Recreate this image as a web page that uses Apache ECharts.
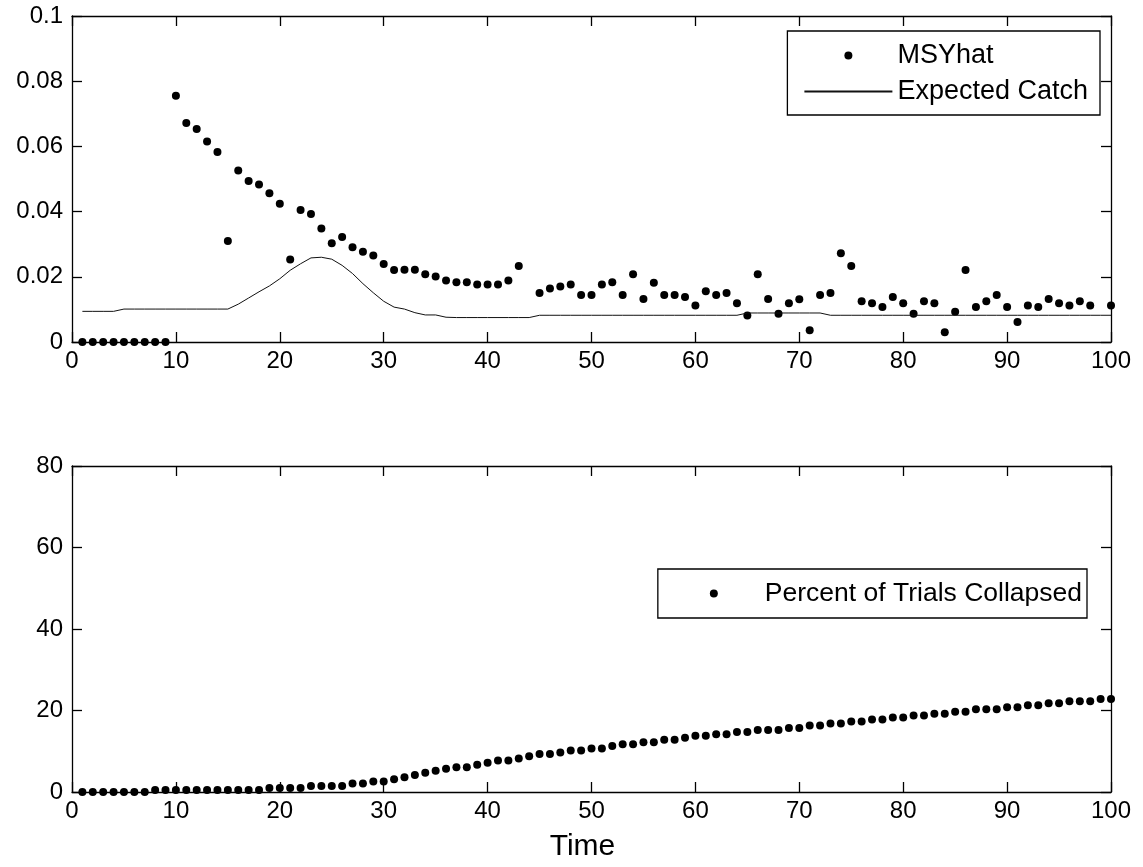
<!DOCTYPE html>
<html>
<head>
<meta charset="utf-8">
<script src="https://cdn.jsdelivr.net/npm/echarts@6/dist/echarts.min.js"></script>
<style>
  html, body { margin: 0; padding: 0; background: #fff; }
  #chart { width: 1143px; height: 867px; }
</style>
</head>
<body>
<div id="chart"></div>
<script>
  // time steps 1..100
  var timeSteps = [
    1, 2, 3, 4, 5, 6, 7, 8, 9, 10, 11, 12, 13, 14, 15, 16, 17, 18, 19, 20,
    21, 22, 23, 24, 25, 26, 27, 28, 29, 30, 31, 32, 33, 34, 35, 36, 37, 38, 39, 40,
    41, 42, 43, 44, 45, 46, 47, 48, 49, 50, 51, 52, 53, 54, 55, 56, 57, 58, 59, 60,
    61, 62, 63, 64, 65, 66, 67, 68, 69, 70, 71, 72, 73, 74, 75, 76, 77, 78, 79, 80,
    81, 82, 83, 84, 85, 86, 87, 88, 89, 90, 91, 92, 93, 94, 95, 96, 97, 98, 99, 100
  ]

  var msyHat = [
    0, 0, 0, 0, 0, 0, 0, 0, 0, 0.0755,
    0.0672, 0.0653, 0.0615, 0.0583, 0.0310, 0.0526, 0.0494, 0.0483, 0.0456, 0.0424,
    0.0253, 0.0405, 0.0393, 0.0348, 0.0303, 0.0322, 0.0291, 0.0277, 0.0265, 0.0239,
    0.0221, 0.0222, 0.0222, 0.0208, 0.0201, 0.0189, 0.0183, 0.0183, 0.0176, 0.0176,
    0.0176, 0.0189, 0.0233, null, 0.0150, 0.0164, 0.0170, 0.0176, 0.0144, 0.0144,
    0.0176, 0.0183, 0.0144, 0.0208, 0.0132, 0.0182, 0.0144, 0.0144, 0.0138, 0.0112,
    0.0156, 0.0144, 0.0150, 0.0119, 0.0081, 0.0208, 0.0132, 0.0087, 0.0119, 0.0131,
    0.0036, 0.0144, 0.0150, 0.0272, 0.0233, 0.0125, 0.0119, 0.0107, 0.0138, 0.0119,
    0.0087, 0.0125, 0.0119, 0.0030, 0.0093, 0.0221, 0.0107, 0.0125, 0.0144, 0.0107,
    0.0061, 0.0112, 0.0107, 0.0132, 0.0119, 0.0112, 0.0125, 0.0112, null, 0.0112
  ]

  var expectedCatch = [
    0.0094, 0.0094, 0.0094, 0.0094, 0.0101, 0.0101, 0.0101, 0.0101, 0.0101, 0.0101,
    0.0101, 0.0101, 0.0101, 0.0101, 0.0101, 0.0116, 0.0135, 0.0154, 0.0172, 0.0194,
    0.0220, 0.0240, 0.0258, 0.0260, 0.0254, 0.0235, 0.0210, 0.0179, 0.0151, 0.0125,
    0.0107, 0.0101, 0.0090, 0.0083, 0.0083, 0.0076, 0.0075, 0.0075, 0.0075, 0.0075,
    0.0075, 0.0075, 0.0075, 0.0075, 0.0082, 0.0082, 0.0082, 0.0082, 0.0082, 0.0082,
    0.0082, 0.0082, 0.0082, 0.0082, 0.0082, 0.0082, 0.0082, 0.0082, 0.0082, 0.0082,
    0.0082, 0.0082, 0.0082, 0.0082, 0.0089, 0.0089, 0.0089, 0.0089, 0.0089, 0.0089,
    0.0089, 0.0089, 0.0082, 0.0082, 0.0082, 0.0082, 0.0082, 0.0082, 0.0082, 0.0082,
    0.0082, 0.0082, 0.0082, 0.0082, 0.0082, 0.0082, 0.0082, 0.0082, 0.0082, 0.0082,
    0.0082, 0.0082, 0.0082, 0.0082, 0.0082, 0.0082, 0.0082, 0.0082, 0.0082, 0.0082
  ]

  var pctCollapsed = [
    0, 0, 0, 0, 0, 0, 0, 0.5, 0.5, 0.5,
    0.5, 0.5, 0.5, 0.5, 0.5, 0.5, 0.5, 0.5, 1.0, 1.0,
    1.0, 1.0, 1.5, 1.5, 1.5, 1.5, 2.1, 2.1, 2.6, 2.6,
    3.1, 3.6, 4.2, 4.7, 5.2, 5.7, 6.1, 6.1, 6.7, 7.2,
    7.7, 7.7, 8.2, 8.8, 9.3, 9.3, 9.7, 10.2, 10.2, 10.7,
    10.7, 11.3, 11.7, 11.7, 12.2, 12.2, 12.8, 12.8, 13.3, 13.8,
    13.8, 14.2, 14.2, 14.7, 14.7, 15.2, 15.2, 15.2, 15.7, 15.7,
    16.3, 16.3, 16.8, 16.8, 17.3, 17.3, 17.8, 17.8, 18.3, 18.3,
    18.8, 18.8, 19.2, 19.2, 19.7, 19.7, 20.3, 20.3, 20.3, 20.8,
    20.8, 21.3, 21.3, 21.8, 21.8, 22.3, 22.3, 22.3, 22.8, 22.8
  ]

  function pairs(xs, ys) {
    var out = []
    for (var i = 0; i < xs.length; i++) {
      out.push([xs[i], ys[i]])
    }
    return out
  }

  var font = '"Liberation Sans", Arial, Helvetica, sans-serif'
  var black = '#000'

  function mainX(gridIndex, name) {
    return {
      type: 'value', gridIndex: gridIndex, position: 'bottom',
      min: 0, max: 100, interval: 10,
      name: name || '', nameLocation: 'middle', nameGap: 40,
      nameTextStyle: { color: black, fontSize: 30, fontFamily: font, padding: [0, 18, 0, 0] },
      axisLine: { show: true, onZero: false, lineStyle: { color: black, width: 1.3 } },
      axisTick: { show: true, inside: true, length: 10, lineStyle: { color: black, width: 1.3 } },
      axisLabel: { color: black, fontSize: 24, fontFamily: font, margin: 7 },
      splitLine: { show: false }
    }
  }
  function mirrorX(gridIndex) {
    return {
      type: 'value', gridIndex: gridIndex, position: 'top',
      min: 0, max: 100, interval: 10,
      axisLine: { show: true, onZero: false, lineStyle: { color: black, width: 1.3 } },
      axisTick: { show: true, inside: true, length: 10, lineStyle: { color: black, width: 1.3 } },
      axisLabel: { show: false },
      splitLine: { show: false }
    }
  }
  function mainY(gridIndex, max, interval) {
    return {
      type: 'value', gridIndex: gridIndex, position: 'left',
      min: 0, max: max, interval: interval,
      axisLine: { show: true, onZero: false, lineStyle: { color: black, width: 1.3 } },
      axisTick: { show: true, inside: true, length: 10, lineStyle: { color: black, width: 1.3 } },
      axisLabel: { color: black, fontSize: 24, fontFamily: font, margin: 9 },
      splitLine: { show: false }
    }
  }
  function mirrorY(gridIndex, max, interval) {
    return {
      type: 'value', gridIndex: gridIndex, position: 'right',
      min: 0, max: max, interval: interval,
      axisLine: { show: true, onZero: false, lineStyle: { color: black, width: 1.3 } },
      axisTick: { show: true, inside: true, length: 10, lineStyle: { color: black, width: 1.3 } },
      axisLabel: { show: false },
      splitLine: { show: false }
    }
  }

  var myChart = echarts.init(document.getElementById('chart'), null, { renderer: 'canvas' })
  myChart.setOption({
    backgroundColor: '#fff',
    animation: false,
    textStyle: { fontFamily: font },
    grid: [
      { left: 72, top: 16, width: 1039, height: 326 },
      { left: 72, top: 466, width: 1039, height: 326 }
    ],
    legend: [
      {
        data: [
          { name: 'MSYhat' },
          { name: 'Expected Catch', itemStyle: { opacity: 0 } }
        ],
        orient: 'vertical',
        right: 43, top: 31,
        padding: [11, 12, 10, 16],
        itemGap: 9,
        itemWidth: 88, itemHeight: 8,
        borderColor: black, borderWidth: 1.3,
        backgroundColor: '#fff',
        textStyle: { color: black, fontSize: 27, fontFamily: font, lineHeight: 26 },
        selectedMode: false
      },
      {
        // the dot's empty side space is trimmed from the box, so pad on the left
        data: ['Percent of Trials Collapsed'],
        orient: 'vertical',
        right: 56, top: 569,
        padding: [11, 5, 11, 52],
        itemWidth: 92, itemHeight: 8,
        borderColor: black, borderWidth: 1.3,
        backgroundColor: '#fff',
        textStyle: { color: black, fontSize: 26.5, fontFamily: font, lineHeight: 26 },
        selectedMode: false
      }
    ],
    xAxis: [mainX(0), mirrorX(0), mainX(1, 'Time'), mirrorX(1)],
    yAxis: [mainY(0, 0.1, 0.02), mirrorY(0, 0.1, 0.02), mainY(1, 80, 20), mirrorY(1, 80, 20)],
    series: [
      {
        name: 'MSYhat',
        type: 'scatter',
        xAxisIndex: 0, yAxisIndex: 0,
        symbol: 'circle', symbolSize: 8,
        itemStyle: { color: black, opacity: 1 },
        clip: false,
        data: pairs(timeSteps, msyHat).filter(function (p) { return p[1] !== null })
      },
      {
        name: 'Expected Catch',
        type: 'line',
        xAxisIndex: 0, yAxisIndex: 0,
        symbol: 'none',
        lineStyle: { color: '#111', width: 1 },
        itemStyle: { color: '#111' },
        data: pairs(timeSteps, expectedCatch)
      },
      {
        name: 'Percent of Trials Collapsed',
        type: 'scatter',
        xAxisIndex: 2, yAxisIndex: 2,
        symbol: 'circle', symbolSize: 8,
        itemStyle: { color: black, opacity: 1 },
        clip: false,
        data: pairs(timeSteps, pctCollapsed)
      }
    ]
  })
</script>
</body>
</html>
